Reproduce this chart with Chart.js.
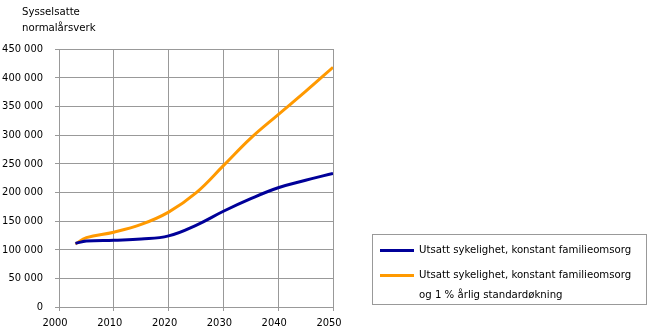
<!DOCTYPE html>
<html>
<head>
<meta charset="utf-8">
<script src="https://cdn.jsdelivr.net/npm/chart.js@4"></script>
<style>
  body { margin: 0; background: #fff; }
  #wrap { position: relative; width: 650px; height: 336px; font-family: "DejaVu Sans Condensed", "DejaVu Sans", sans-serif; font-size: 11px; color: #000; }
  #tittel { position: absolute; left: 22px; top: 4px; line-height: 16px; font-size: 11.3px; }
  #legende { position: absolute; left: 372px; top: 234px; width: 275px; height: 71px; border: 1px solid #999; box-sizing: border-box; }
  .rad { position: absolute; left: 7px; }
  .strek { position: absolute; left: 0; width: 34px; height: 3px; }
  .tekst { position: absolute; left: 39px; white-space: nowrap; line-height: 20px; font-size: 11.3px; }
</style>
</head>
<body>
<div id="wrap">
  <canvas id="graf" width="650" height="336"></canvas>
  <div id="tittel">Sysselsatte<br>normalårsverk</div>
  <div id="legende">
    <div class="rad" style="top:14px"><div class="strek" style="background:#000099;top:0"></div><div class="tekst" style="top:-9px">Utsatt sykelighet, konstant familieomsorg</div></div>
    <div class="rad" style="top:39px"><div class="strek" style="background:#ff9900;top:0"></div><div class="tekst" style="top:-9px">Utsatt sykelighet, konstant familieomsorg<br>og 1 % årlig standardøkning</div></div>
  </div>
</div>
<script>
// årstall og verdier lest av figuren
var aar = [2003, 2005, 2010, 2015, 2020, 2025, 2030, 2035, 2040, 2045, 2050];
var konstant = [111000, 115000, 116500, 118500, 124000, 142500, 167000, 189000, 208000, 221000, 233000];
var standard = [110000, 121000, 130500, 144000, 165500, 199000, 246500, 294500, 335500, 376000, 418000];
var xTicks = [2000, 2010, 2020, 2030, 2040, 2050];

function punkter(verdier) {
    var ut = [];
    for (var i in aar) {
        ut.push({ x: aar[i], y: verdier[i] });
    }
    return ut;
}

function tusen(v) {
    return String(v).replace(/\B(?=(\d{3})+(?!\d))/g, ' ');
}

var font = { family: '"DejaVu Sans Condensed", "DejaVu Sans", sans-serif', size: 11 };

new Chart(document.getElementById('graf'), {
    type: 'line',
    data: {
        datasets: [
            {
                label: 'Utsatt sykelighet, konstant familieomsorg',
                data: punkter(konstant),
                borderColor: '#000099',
                borderWidth: 3,
                pointRadius: 0,
                tension: 0.4
            },
            {
                label: 'Utsatt sykelighet, konstant familieomsorg og 1 % årlig standardøkning',
                data: punkter(standard),
                borderColor: '#ff9900',
                borderWidth: 3,
                pointRadius: 0,
                tension: 0.4
            }
        ]
    },
    options: {
        responsive: false,
        animation: false,
        layout: { padding: { left: 0, right: 317, top: 49, bottom: 0 } },
        plugins: { legend: { display: false }, tooltip: { enabled: false } },
        scales: {
            x: {
                type: 'linear',
                min: 2000,
                max: 2050,
                afterBuildTicks: function (s) { s.ticks = xTicks.map(function (v) { return { value: v }; }); },
                afterFit: function (s) { s.height = 29; },
                grid: { color: '#999', tickLength: 4, lineWidth: 1 },
                border: { color: '#999' },
                ticks: { color: '#000', font: font, padding: 6, labelOffset: -4, maxRotation: 0, callback: function (v) { return String(v); } }
            },
            y: {
                min: 0,
                max: 450000,
                ticks: { stepSize: 50000, color: '#000', font: font, padding: 12, callback: function (v) { return tusen(v); } },
                afterFit: function (s) { s.width = 59; },
                grid: { color: '#999', tickLength: 4, lineWidth: 1 },
                border: { color: '#999' }
            }
        }
    }
});
</script>
</body>
</html>
